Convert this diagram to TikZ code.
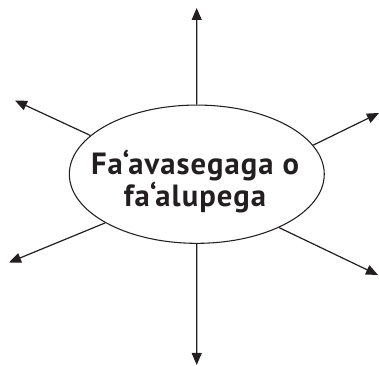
\documentclass[tikz,border=0pt]{standalone}
\usepackage{fontspec}
\setmainfont{PT Sans}[LetterSpace=3.5]
\usetikzlibrary{shapes.geometric,arrows.meta}
\definecolor{ink}{HTML}{231F20}
\begin{document}
\begin{tikzpicture}[x=0.75pt,y=-0.75pt,
  hub/.style={ellipse,draw=ink,line width=0.8pt,minimum width=191.2pt,minimum height=103.7pt,inner sep=0pt},
  txt/.style={anchor=base,inner sep=0pt,font=\fontsize{23}{24}\selectfont\bfseries,text=ink},
  spoke/.style={draw=ink,line width=0.9pt,-{Triangle[length=9pt,width=7.5pt]}}]
\useasboundingbox (0,0) rectangle (379,366);
\node[hub] (c) at (196.8,174.2) {};
\node[txt] (l1) at (195,174.3) {Fa‘avasegaga o};
\node[txt] (l2) at (195,206.7) {fa‘alupega};
\coordinate (tT) at (196.7,8);
\coordinate (tB) at (196.7,365);
\coordinate (tUL) at (15,100.5);
\coordinate (tUR) at (379,113);
\coordinate (tLL) at (9,262.5);
\coordinate (tLR) at (378,275);
\draw[spoke] (c.north) -- (tT);
\draw[spoke] (c.south) -- (tB);
\draw[spoke] (c.160.9) -- (tUL);
\draw[spoke] (c.14.85) -- (tUR);
\draw[spoke] (c.208.1) -- (tLL);
\draw[spoke] (c.327.4) -- (tLR);
\end{tikzpicture}
\end{document}
